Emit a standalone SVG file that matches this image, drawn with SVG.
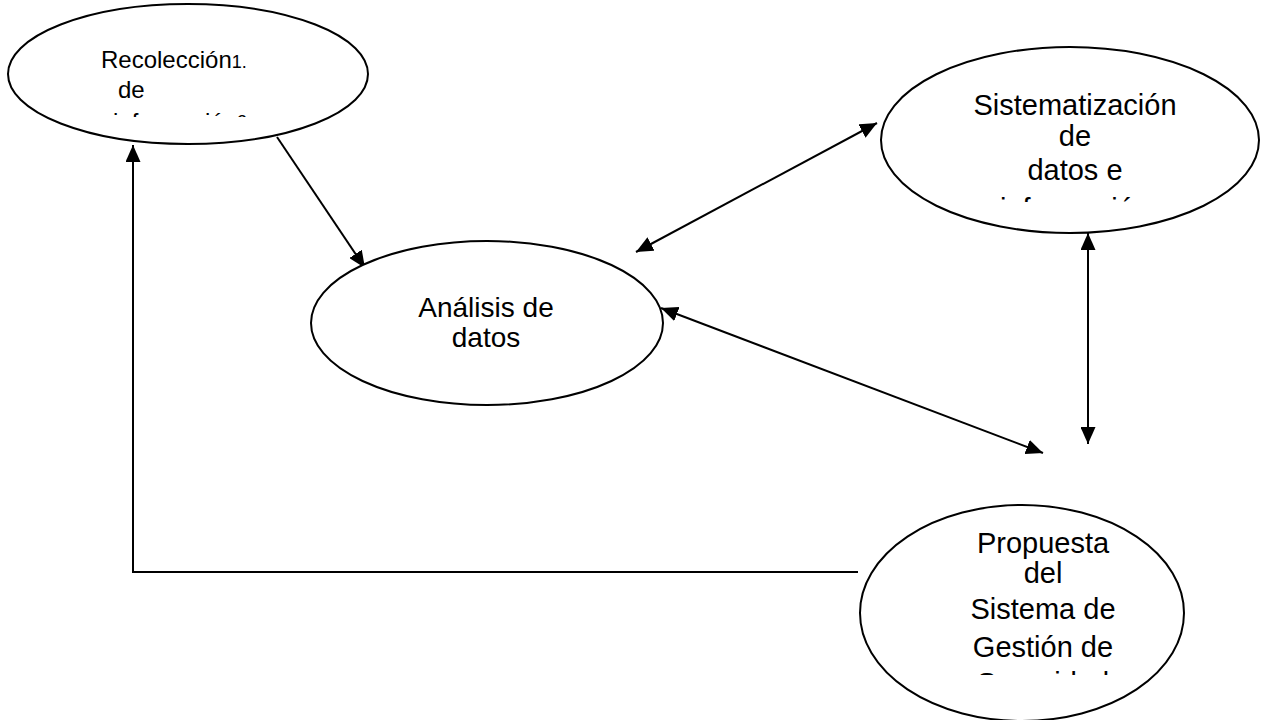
<svg xmlns="http://www.w3.org/2000/svg" width="1268" height="720" viewBox="0 0 1268 720">
<style>
.node{fill:#fff;stroke:#000;stroke-width:2}
.t{font-family:"Liberation Sans",Arial,sans-serif;fill:#000}
.c{text-anchor:middle}
.conn{fill:none;stroke:#000;stroke-width:2}
</style>
<defs>
<marker id="ah" viewBox="0 0 17 15" refX="17" refY="7.5" markerWidth="17" markerHeight="15" markerUnits="userSpaceOnUse" orient="auto-start-reverse">
<path d="M0,0 L17,7.5 L0,15 z" fill="#000"/>
</marker>
<clipPath id="clip1"><rect x="0" y="0" width="380" height="117"/></clipPath>
<clipPath id="clip2"><rect x="880" y="0" width="388" height="202"/></clipPath>
<clipPath id="clip4"><rect x="860" y="500" width="330" height="175"/></clipPath>
</defs>
<rect width="1268" height="720" fill="#fff"/>
<g id="connectors">
<line class="conn" x1="277" y1="137" x2="365" y2="268" marker-end="url(#ah)"/>
<line class="conn" x1="636" y1="252" x2="877" y2="123" marker-start="url(#ah)" marker-end="url(#ah)"/>
<line class="conn" x1="661" y1="308" x2="1043" y2="453" marker-start="url(#ah)" marker-end="url(#ah)"/>
<line class="conn" x1="1088" y1="233" x2="1088" y2="444" marker-start="url(#ah)" marker-end="url(#ah)"/>
<polyline class="conn" points="858,572 133,572 133,145" marker-end="url(#ah)"/>
</g>
<g id="recoleccion">
<ellipse class="node" cx="188" cy="74" rx="180" ry="70"/>
<g clip-path="url(#clip1)">
<text class="t" x="101" y="68" font-size="24">Recolección<tspan font-size="18">1.</tspan></text>
<text class="t" x="118" y="98" font-size="24">de</text>
<text class="t" x="113" y="129.5" font-size="24">información</text>
<text class="t" x="237" y="128" font-size="18">2.</text>
</g>
</g>
<g id="sistematizacion">
<ellipse class="node" cx="1070" cy="140" rx="189" ry="93"/>
<g clip-path="url(#clip2)">
<text class="t c" x="1075" y="115" font-size="29">Sistematización</text>
<text class="t c" x="1075" y="146" font-size="29">de</text>
<text class="t c" x="1075" y="180" font-size="29">datos e</text>
<text class="t c" x="1075" y="219" font-size="29">información</text>
</g>
</g>
<g id="analisis">
<ellipse class="node" cx="487" cy="323" rx="176" ry="82"/>
<text class="t c" x="486" y="317" font-size="28">Análisis de</text>
<text class="t c" x="486" y="347" font-size="28">datos</text>
</g>
<g id="propuesta">
<ellipse class="node" cx="1022" cy="613" rx="162" ry="108"/>
<g clip-path="url(#clip4)">
<text class="t c" x="1043" y="553" font-size="29">Propuesta</text>
<text class="t c" x="1043" y="583" font-size="29">del</text>
<text class="t c" x="1043" y="619" font-size="29">Sistema de</text>
<text class="t c" x="1043" y="657" font-size="29">Gestión de</text>
<text class="t c" x="1043" y="693" font-size="29">Seguridad</text>
</g>
</g>
</svg>
